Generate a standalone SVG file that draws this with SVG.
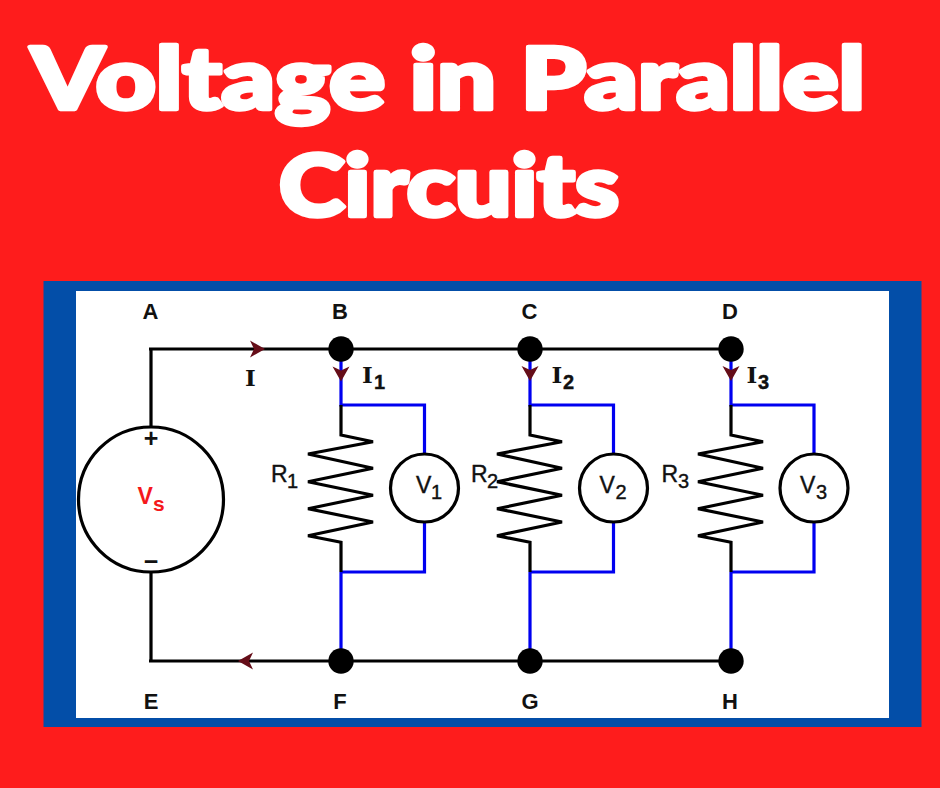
<svg xmlns="http://www.w3.org/2000/svg" width="940" height="788" viewBox="0 0 940 788">
<style>
text{font-family:"Liberation Sans",Arial,sans-serif;fill:#111}
.title{font-family:Lato,"Liberation Sans",sans-serif;font-weight:900;font-size:86px;fill:#fff;stroke:#fff;stroke-width:4.500;stroke-linejoin:round}
.pt{font-size:22px;font-weight:700;text-anchor:middle}
.cur{font-family:"DejaVu Serif",serif;font-size:23px;font-weight:700}
.sub{font-family:"Liberation Sans",sans-serif;font-size:20px;stroke:#111;stroke-width:.4}
.b{font-weight:700}
.lab{font-size:23px;stroke:#111;stroke-width:.4}
.w{fill:none;stroke:#000;stroke-width:3.200}
.bl{fill:none;stroke:#0000f0;stroke-width:3.200}
.dot{fill:#000}
.ah{fill:#650d18}
.ring{fill:#fff;stroke:#000;stroke-width:3.200}
</style>
<defs>
<path id="ar" class="ah" d="M0 0L-15 -8.500L-11 0L-15 8.500Z"/>
<path id="zig" class="w" d="M0 56V86L32 92.700L-33 105L32 119.300L-33 132.700L32 146.300L-33 159.700L32 173L-33 186.700L0 193.300V223"/>
</defs>
<rect width="940" height="788" fill="#fe1c1c"/>
<rect x="43.500" y="281" width="878" height="446" fill="#034ea8"/>
<rect x="76" y="291" width="813" height="427" fill="#fff"/>
<g id="title">
<text class="title" x="31" y="108.500" textLength="834" lengthAdjust="spacingAndGlyphs">Voltage in Parallel</text>
<text class="title" x="279" y="215.500" textLength="340" lengthAdjust="spacingAndGlyphs">Circuits</text>
</g>
<g id="connectors">
<path class="w" d="M151 427V349H341M149 349H730M151 572V661H730M149 661H341"/>
<path class="bl" d="M341 349V405H424.500V454M424.500 522V572H341M341 572V661"/>
<path class="bl" d="M530 349V405H613.500V454M613.500 522V572H530M530 572V661"/>
<path class="bl" d="M731 349V405H814V454M814 522V572H731M731 572V661"/>
<use href="#ar" x="265" y="349"/>
<use href="#ar" transform="translate(238 661) rotate(180)"/>
<use href="#ar" transform="translate(341 381.500) rotate(90)"/>
<use href="#ar" transform="translate(530 381) rotate(90)"/>
<use href="#ar" transform="translate(731 381) rotate(90)"/>
</g>
<g id="source-Vs">
<circle class="ring" cx="151" cy="499.500" r="72.500"/>
<text x="151" y="447" text-anchor="middle" font-size="25" font-weight="700">+</text>
<text x="151" y="570" text-anchor="middle" font-size="25" font-weight="700">−</text>
<text x="137.500" y="504" style="fill:#f5181c" font-size="23" font-weight="700">V<tspan x="153" y="510.500" font-size="21">s</tspan></text>
</g>
<g id="node-A"><text class="pt" x="150.500" y="319">A</text></g>
<g id="node-B"><circle class="dot" cx="341" cy="349" r="12.700"/><text class="pt" x="340" y="319">B</text></g>
<g id="node-C"><circle class="dot" cx="530" cy="349" r="12.700"/><text class="pt" x="529.500" y="319">C</text></g>
<g id="node-D"><circle class="dot" cx="731" cy="349" r="12.700"/><text class="pt" x="730" y="319">D</text></g>
<g id="node-E"><text class="pt" x="151" y="709">E</text></g>
<g id="node-F"><circle class="dot" cx="341" cy="661" r="12.700"/><text class="pt" x="340" y="709">F</text></g>
<g id="node-G"><circle class="dot" cx="530" cy="661" r="12.700"/><text class="pt" x="530" y="709">G</text></g>
<g id="node-H"><circle class="dot" cx="731" cy="661" r="12.700"/><text class="pt" x="730" y="709">H</text></g>
<g id="current-I"><text class="cur" x="245" y="386">I</text></g>
<g id="current-I1"><text class="cur" x="362" y="383">I<tspan class="sub b" x="374" y="389">1</tspan></text></g>
<g id="current-I2"><text class="cur" x="551.500" y="383">I<tspan class="sub b" x="563" y="389">2</tspan></text></g>
<g id="current-I3"><text class="cur" x="746.500" y="383">I<tspan class="sub b" x="758" y="389">3</tspan></text></g>
<g id="R1"><use href="#zig" x="341" y="349"/><text class="lab" x="271" y="482">R<tspan class="sub" x="287" y="488">1</tspan></text></g>
<g id="R2"><use href="#zig" x="530" y="349"/><text class="lab" x="471" y="482">R<tspan class="sub" x="487" y="488">2</tspan></text></g>
<g id="R3"><use href="#zig" x="731" y="349"/><text class="lab" x="661.500" y="482">R<tspan class="sub" x="678" y="488">3</tspan></text></g>
<g id="V1"><circle class="ring" cx="424.500" cy="488" r="34"/><text class="lab" x="416" y="493">V<tspan class="sub" x="431" y="499">1</tspan></text></g>
<g id="V2"><circle class="ring" cx="613.500" cy="488" r="34"/><text class="lab" x="599.500" y="493">V<tspan class="sub" x="615.500" y="499">2</tspan></text></g>
<g id="V3"><circle class="ring" cx="814" cy="488" r="34"/><text class="lab" x="800" y="493">V<tspan class="sub" x="816" y="499">3</tspan></text></g>
</svg>
